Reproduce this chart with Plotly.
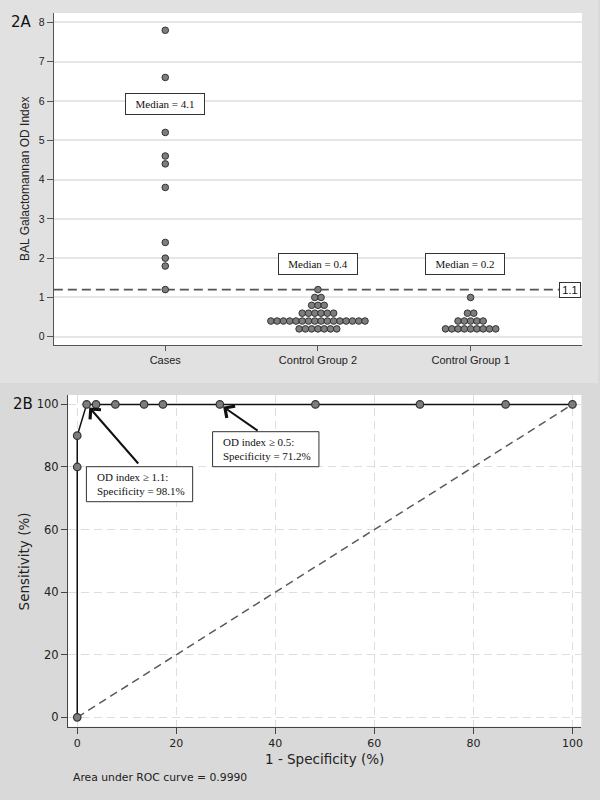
import plotly.graph_objects as go
from collections import Counter

W, H = 600, 800

# ---------------- data ----------------
categories = ["Cases", "Control Group 2", "Control Group 1"]
cases_od = [7.8, 6.6, 5.2, 4.6, 4.4, 3.8, 2.4, 2.0, 1.8, 1.2]
cg2_od = [1.2,
          1.0, 1.0,
          0.8, 0.8, 0.8,
          0.6, 0.6, 0.6, 0.6, 0.6, 0.6,
          0.4, 0.4, 0.4, 0.4, 0.4, 0.4, 0.4, 0.4, 0.4, 0.4, 0.4, 0.4, 0.4, 0.4, 0.4, 0.4,
          0.2, 0.2, 0.2, 0.2, 0.2, 0.2, 0.2]
cg1_od = [1.0,
          0.6, 0.6,
          0.4, 0.4, 0.4, 0.4, 0.4,
          0.2, 0.2, 0.2, 0.2, 0.2, 0.2, 0.2, 0.2, 0.2]
median_labels = ["Median = 4.1", "Median = 0.4", "Median = 0.2"]
cutoff_line = 1.2
cutoff_label = "1.1"
y_ticks_a = [0, 1, 2, 3, 4, 5, 6, 7, 8]

roc_fpr = [0, 0, 0, 1.9, 3.8, 7.7, 13.5, 17.3, 28.8, 48.1, 69.2, 86.5, 100]
roc_tpr = [0, 80, 90, 100, 100, 100, 100, 100, 100, 100, 100, 100, 100]
ref_x = [0, 100]
ref_y = [0, 100]
ticks_b = [0, 20, 40, 60, 80, 100]
note_1 = "OD index ≥ 1.1:<br>Specificity = 98.1%"
note_1_point = (1.9, 100)
note_2 = "OD index ≥ 0.5:<br>Specificity = 71.2%"
note_2_point = (28.8, 100)
auc_text = "Area under ROC curve = 0.9990"

# ---------------- layout helpers ----------------
def px(xp):
    return xp / W

def py(yp):
    return 1 - yp / H

A_L, A_R, A_T, A_B = 54, 584, 13, 345
B_L, B_R, B_T, B_B = 68.3, 583.3, 395, 726.7
A_XR = [0.27, 3.73]
A_YR = [-0.21, 8.24]
B_XR = [-1.85, 101.8]
B_YR = [-3.0, 103.0]

def bx(xp):
    return B_XR[0] + (xp - B_L) / (B_R - B_L) * (B_XR[1] - B_XR[0])

def by(yp):
    return B_YR[0] + (B_B - yp) / (B_B - B_T) * (B_YR[1] - B_YR[0])

DOT_STEP = 0.0411

def dot_offsets(values, center):
    counts = Counter(values)
    seen = {}
    xs = []
    for v in values:
        n = counts[v]
        i = seen.get(v, 0)
        seen[v] = i + 1
        xs.append(center + (i - (n - 1) / 2) * DOT_STEP)
    return xs

dot_marker = dict(size=6.6, color="#7d7d7d", line=dict(color="#333333", width=1))

fig = go.Figure()

groups = [cases_od, cg2_od, cg1_od]
for gi, vals in enumerate(groups):
    fig.add_trace(go.Scatter(
        x=dot_offsets(vals, gi + 1), y=vals, mode="markers",
        marker=dot_marker, xaxis="x", yaxis="y", showlegend=False,
        hoverinfo="y"))

# ROC
fig.add_trace(go.Scatter(
    x=ref_x, y=ref_y, mode="lines",
    line=dict(color="#5a5a5a", width=1.5, dash="8px,5px"),
    xaxis="x2", yaxis="y2", showlegend=False, hoverinfo="skip"))
fig.add_trace(go.Scatter(
    x=roc_fpr, y=roc_tpr, mode="lines+markers",
    line=dict(color="#111111", width=1.5),
    marker=dict(size=7.5, color="#7d7d7d", line=dict(color="#333333", width=1.2)),
    xaxis="x2", yaxis="y2", showlegend=False, cliponaxis=False))

shapes = [
    dict(type="rect", xref="paper", yref="paper", x0=0, x1=1, y0=py(383), y1=1,
         fillcolor="#e1e1e1", line=dict(width=0), layer="below"),
    dict(type="rect", xref="paper", yref="paper", x0=px(A_L), x1=px(A_R), y0=py(A_B), y1=py(A_T),
         fillcolor="white", line=dict(width=0), layer="below"),
    dict(type="rect", xref="paper", yref="paper", x0=px(B_L), x1=px(B_R), y0=py(B_B), y1=py(B_T),
         fillcolor="white", line=dict(width=0), layer="below"),
    dict(type="line", xref="paper", yref="y", x0=px(A_L), x1=px(561), y0=cutoff_line, y1=cutoff_line,
         line=dict(color="#555555", width=1.6, dash="9px,5px"), layer="below"),
    dict(type="rect", xref="paper", yref="paper", x0=px(86.7), x1=px(193.3), y0=py(501.7), y1=py(466.7),
         fillcolor="white", line=dict(color="#333333", width=1), layer="above"),
    dict(type="rect", xref="paper", yref="paper", x0=px(213.3), x1=px(320), y0=py(466.7), y1=py(431.7),
         fillcolor="white", line=dict(color="#333333", width=1), layer="above"),
]

serif = "Liberation Serif"
sans = "Liberation Sans"
dv = "DejaVu Sans"

def note(text, x, y, font, **kw):
    d = dict(text=text, xref="paper", yref="paper", x=x, y=y, showarrow=False,
             xanchor="center", yanchor="middle", font=font)
    d.update(kw)
    return d

annotations = [
    note("2A", px(22), py(22), dict(family=dv, size=15, color="#111")),
    note("2B", px(23), py(404), dict(family=dv, size=15, color="#111")),
    note("BAL Galactomannan OD Index", px(25), py(179), dict(family=sans, size=12, color="#222"),
         textangle=-90),
    note("Sensitivity (%)", px(24.5), py(561), dict(family=dv, size=13.5, color="#222"),
         textangle=-90),
    note("1 - Specificity (%)", px(326), py(759), dict(family=dv, size=13.5, color="#222")),
    note(auc_text, px(71.6), py(777), dict(family=dv, size=10.8, color="#222"), xanchor="left"),
    note(cutoff_label, px(572.3), cutoff_line, dict(family=sans, size=11, color="#111"),
         yref="y", bgcolor="white", bordercolor="#333", borderwidth=1, borderpad=2,
         width=16, height=10),
    note(note_1, px(95), py(484), dict(family=serif, size=11, color="#111"),
         xanchor="left", align="left"),
    note(note_2, px(221.7), py(449.2), dict(family=serif, size=11, color="#111"),
         xanchor="left", align="left"),
    dict(text="", x=note_1_point[0], y=note_1_point[1], xref="x2", yref="y2",
         ax=bx(140), ay=by(465), axref="x2", ayref="y2", showarrow=True,
         arrowhead=4, arrowsize=1.4, arrowwidth=2, arrowcolor="#111", standoff=4),
    dict(text="", x=note_2_point[0], y=note_2_point[1], xref="x2", yref="y2",
         ax=bx(260), ay=by(431.7), axref="x2", ayref="y2", showarrow=True,
         arrowhead=4, arrowsize=1.4, arrowwidth=2, arrowcolor="#111", standoff=4),
]

median_pos = [(1.0, 5.92), (2.0, 1.85), (2.96, 1.85)]
for lbl, (mx, my) in zip(median_labels, median_pos):
    annotations.append(dict(text=lbl, xref="x", yref="y", x=mx, y=my, showarrow=False,
                            xanchor="center", yanchor="middle",
                            font=dict(family=serif, size=11, color="#111"), bgcolor="white",
                            bordercolor="#333", borderwidth=1, borderpad=2, width=74, height=16))

fig.update_layout(
    width=W, height=H, autosize=False,
    margin=dict(l=0, r=0, t=0, b=0),
    paper_bgcolor="#d9d9d9", plot_bgcolor="rgba(0,0,0,0)",
    showlegend=False,
    xaxis=dict(domain=[px(A_L), px(A_R)], range=A_XR, tickvals=[1, 2, 3], ticktext=categories,
               showgrid=False, zeroline=False, showline=True, linecolor="#555", linewidth=1.3,
               ticks="outside", ticklen=5, tickcolor="#555", tickwidth=1,
               tickfont=dict(family=sans, size=11, color="#222"), anchor="y", fixedrange=True),
    yaxis=dict(domain=[py(A_B), py(A_T)], range=A_YR, tickvals=y_ticks_a,
               showgrid=True, gridcolor="#e6e6e6", gridwidth=1.5, zeroline=False,
               showline=True, linecolor="#555", linewidth=1.3,
               ticks="outside", ticklen=6, tickcolor="#555", tickwidth=1,
               tickfont=dict(family=sans, size=10.5, color="#222"), anchor="x", fixedrange=True),
    xaxis2=dict(domain=[px(B_L), px(B_R)], range=B_XR, tickvals=ticks_b,
                showgrid=True, gridcolor="#dedede", gridwidth=1.3, griddash="8px,5px",
                zeroline=False, showline=True, linecolor="#444", linewidth=1.3,
                ticks="outside", ticklen=6, tickcolor="#444", tickwidth=1,
                tickfont=dict(family=dv, size=11, color="#222"), anchor="y2", fixedrange=True),
    yaxis2=dict(domain=[py(B_B), py(B_T)], range=B_YR, tickvals=ticks_b,
                showgrid=True, gridcolor="#dedede", gridwidth=1.3, griddash="8px,5px",
                zeroline=False, showline=True, linecolor="#444", linewidth=1.3,
                ticks="outside", ticklen=6, tickcolor="#444", tickwidth=1,
                tickfont=dict(family=dv, size=11.5, color="#222"), anchor="x2", fixedrange=True),
    shapes=shapes,
    annotations=annotations,
)

fig.write_html("out.html",
               config={"displayModeBar": False},
               post_script="document.body.style.margin='0';document.body.style.overflow='hidden';")
